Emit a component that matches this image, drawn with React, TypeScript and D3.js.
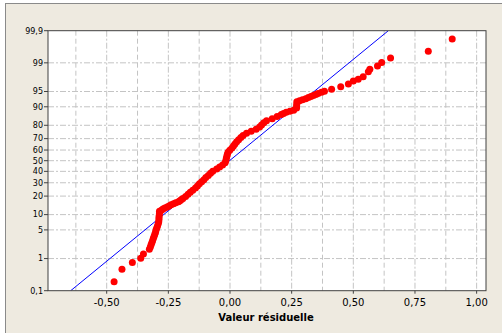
import * as d3 from "d3";

// residuals (x) and plotted percentile (y)
const residuals = [
  -0.47, -0.438, -0.396, -0.362, -0.351, -0.327,
  -0.323, -0.32, -0.317, -0.314, -0.311, -0.308, -0.305, -0.302, -0.3, -0.297,
  -0.294, -0.291, -0.289, -0.288, -0.288, -0.287, -0.286, -0.286,
  -0.278, -0.272, -0.264, -0.255, -0.247, -0.239, -0.229, -0.22, -0.209, -0.203,
  -0.197, -0.191, -0.18, -0.17, -0.161, -0.151, -0.14, -0.132, -0.124, -0.115,
  -0.106, -0.098, -0.088, -0.079, -0.07, -0.054, -0.042, -0.03, -0.02, -0.017,
  -0.015, -0.013, -0.011, -0.008, -0.001, 0.008, 0.014, 0.02, 0.027, 0.035,
  0.044, 0.053, 0.067, 0.086, 0.106, 0.12, 0.128, 0.137, 0.148, 0.171,
  0.191, 0.208, 0.217, 0.228, 0.243, 0.258, 0.27, 0.27, 0.271, 0.271,
  0.282, 0.294, 0.307, 0.318, 0.328, 0.338, 0.348, 0.357, 0.371, 0.383,
  0.412, 0.449, 0.48, 0.5, 0.52, 0.54, 0.561, 0.567, 0.598, 0.615, 0.651,
  0.804, 0.901,
];
const percents = [
  0.2, 0.49, 0.78, 1.02, 1.33, 1.76,
  2.02, 2.28, 2.56, 2.87, 3.22, 3.59, 4.01, 4.46, 4.95, 5.48,
  6.06, 6.68, 7.35, 8.08, 8.85, 9.68, 10.56, 11.51,
  12.0, 12.51, 13.04, 13.57, 14.12, 14.69, 15.27, 15.87, 16.49, 17.11,
  17.75, 18.41, 19.77, 21.19, 22.66, 24.2, 25.78, 27.43, 29.12, 30.85,
  32.64, 34.46, 36.32, 38.21, 40.13, 42.07, 44.04, 46.02, 48.01, 50.0,
  51.99, 53.98, 55.96, 57.93, 59.87, 61.79, 63.68, 65.54, 67.36, 69.15,
  70.88, 72.57, 74.22, 75.8, 77.34, 78.81, 80.23, 81.59, 82.89, 84.13,
  85.31, 86.43, 86.96, 87.49, 88.0, 88.49, 89.44, 90.32, 91.15, 91.92,
  92.29, 92.65, 92.99, 93.32, 93.63, 93.94, 94.23, 94.52, 94.79, 95.05,
  95.52, 96.07, 96.58, 97.09, 97.35, 97.71, 98.28, 98.51, 98.78, 99.02, 99.27,
  99.54, 99.81,
];

// fitted normal line (estimated)
const fitMean = -0.002;
const fitStdDev = 0.2084;

const xTicks = [-0.5, -0.25, 0, 0.25, 0.5, 0.75, 1.0];
const xMinorTicks = [-0.625, -0.375, -0.125, 0.125, 0.375, 0.625, 0.875];
const yTicks = [0.1, 1, 5, 10, 20, 30, 40, 50, 60, 70, 80, 90, 95, 99, 99.9];
const yTickLabels = ["0,1", "1", "5", "10", "20", "30", "40", "50", "60", "70", "80", "90", "95", "99", "99,9"];

const W = 502;
const H = 333;
const left = 48, right = 486, top = 30.7, bottom = 290.7;

// inverse normal CDF (Acklam)
function probit(p: number) {
  const a = [-39.69683028665376, 220.9460984245205, -275.9285104469687, 138.357751867269, -30.66479806614716, 2.506628277459239];
  const b = [-54.47609879822406, 161.5858368580409, -155.6989798598866, 66.80131188771972, -13.28068155288572];
  const c = [-0.007784894002430293, -0.3223964580411365, -2.400758277161838, -2.549732539343734, 4.374664141464968, 2.938163982698783];
  const d = [0.007784695709041462, 0.3224671290700398, 2.445134137142996, 3.754408661907416];
  const pl = 0.02425;
  if (p < pl) {
    const q = Math.sqrt(-2 * Math.log(p));
    return (((((c[0] * q + c[1]) * q + c[2]) * q + c[3]) * q + c[4]) * q + c[5]) / ((((d[0] * q + d[1]) * q + d[2]) * q + d[3]) * q + 1);
  }
  if (p <= 1 - pl) {
    const q = p - 0.5, r = q * q;
    return ((((((a[0] * r + a[1]) * r + a[2]) * r + a[3]) * r + a[4]) * r + a[5]) * q) / (((((b[0] * r + b[1]) * r + b[2]) * r + b[3]) * r + b[4]) * r + 1);
  }
  const q = Math.sqrt(-2 * Math.log(1 - p));
  return -(((((c[0] * q + c[1]) * q + c[2]) * q + c[3]) * q + c[4]) * q + c[5]) / ((((d[0] * q + d[1]) * q + d[2]) * q + d[3]) * q + 1);
}

const locale = d3.formatLocale({ decimal: ",", thousands: " ", grouping: [3], currency: ["", ""], minus: "-" });
const fmt = locale.format(".2f");

export default function App() {
  const x = d3.scaleLinear().domain([-0.738, 1.038]).range([left, right]);
  const zScale = d3.scaleLinear().domain([probit(0.001), probit(0.999)]).range([bottom, top]);
  const y = (pct: number) => zScale(probit(pct / 100));

  const fitLine = d3
    .line<number>()
    .x((p) => x(fitMean + fitStdDev * probit(p / 100)))
    .y((p) => y(p));

  const font = "'DejaVu Sans', Verdana, sans-serif";

  return (
    <svg width={W} height={H} style={{ position: "absolute", left: 0, top: 0, background: "#fff" }}>
      <defs>
        <clipPath id="plotClip">
          <rect x={left} y={top} width={right - left} height={bottom - top} />
        </clipPath>
      </defs>
      <rect x={5.5} y={3.5} width={W + 10} height={H + 10} fill="#EEEAE0" stroke="#8a8a8a" />
      <rect x={left} y={top} width={right - left} height={bottom - top} fill="#fff" />

      {/* grid */}
      <g stroke="#c4c4c4" strokeWidth={1}>
        {xMinorTicks.map((t) => (
          <line key={"m" + t} x1={x(t)} x2={x(t)} y1={top} y2={bottom} strokeDasharray="5,3" />
        ))}
        {xTicks.map((t) => (
          <line key={"x" + t} x1={x(t)} x2={x(t)} y1={top} y2={bottom} strokeDasharray="6,2,2,2" />
        ))}
        {yTicks.slice(1, -1).map((t) => (
          <line key={"y" + t} x1={left} x2={right} y1={y(t)} y2={y(t)} strokeDasharray="6,2,2,2" />
        ))}
      </g>

      {/* fitted line */}
      <path d={fitLine([0.1, 99.9]) ?? ""} fill="none" stroke="#0000ff" strokeWidth={1} clipPath="url(#plotClip)" />

      {/* points */}
      <g fill="#ff0000">
        {residuals.map((r, i) => (
          <circle key={i} cx={x(r)} cy={y(percents[i])} r={3.5} />
        ))}
      </g>

      <rect x={left} y={top} width={right - left} height={bottom - top} fill="none" stroke="#404040" />

      {/* y axis */}
      <g fontFamily={font} fontSize={8} fill="#000">
        {yTicks.map((t, i) => (
          <g key={t}>
            <line x1={left - 4} x2={left} y1={y(t)} y2={y(t)} stroke="#404040" />
            <text x={left - 5} y={y(t)} dy="0.35em" textAnchor="end">
              {yTickLabels[i]}
            </text>
          </g>
        ))}
      </g>

      {/* x axis */}
      <g fontFamily={font} fontSize={10} fill="#000">
        {xTicks.map((t) => (
          <g key={t}>
            <line x1={x(t)} x2={x(t)} y1={bottom} y2={bottom + 3} stroke="#404040" />
            <text x={x(t)} y={306} textAnchor="middle">
              {fmt(t)}
            </text>
          </g>
        ))}
        <text x={266} y={320.5} textAnchor="middle" fontWeight="bold">
          Valeur résiduelle
        </text>
      </g>
    </svg>
  );
}
